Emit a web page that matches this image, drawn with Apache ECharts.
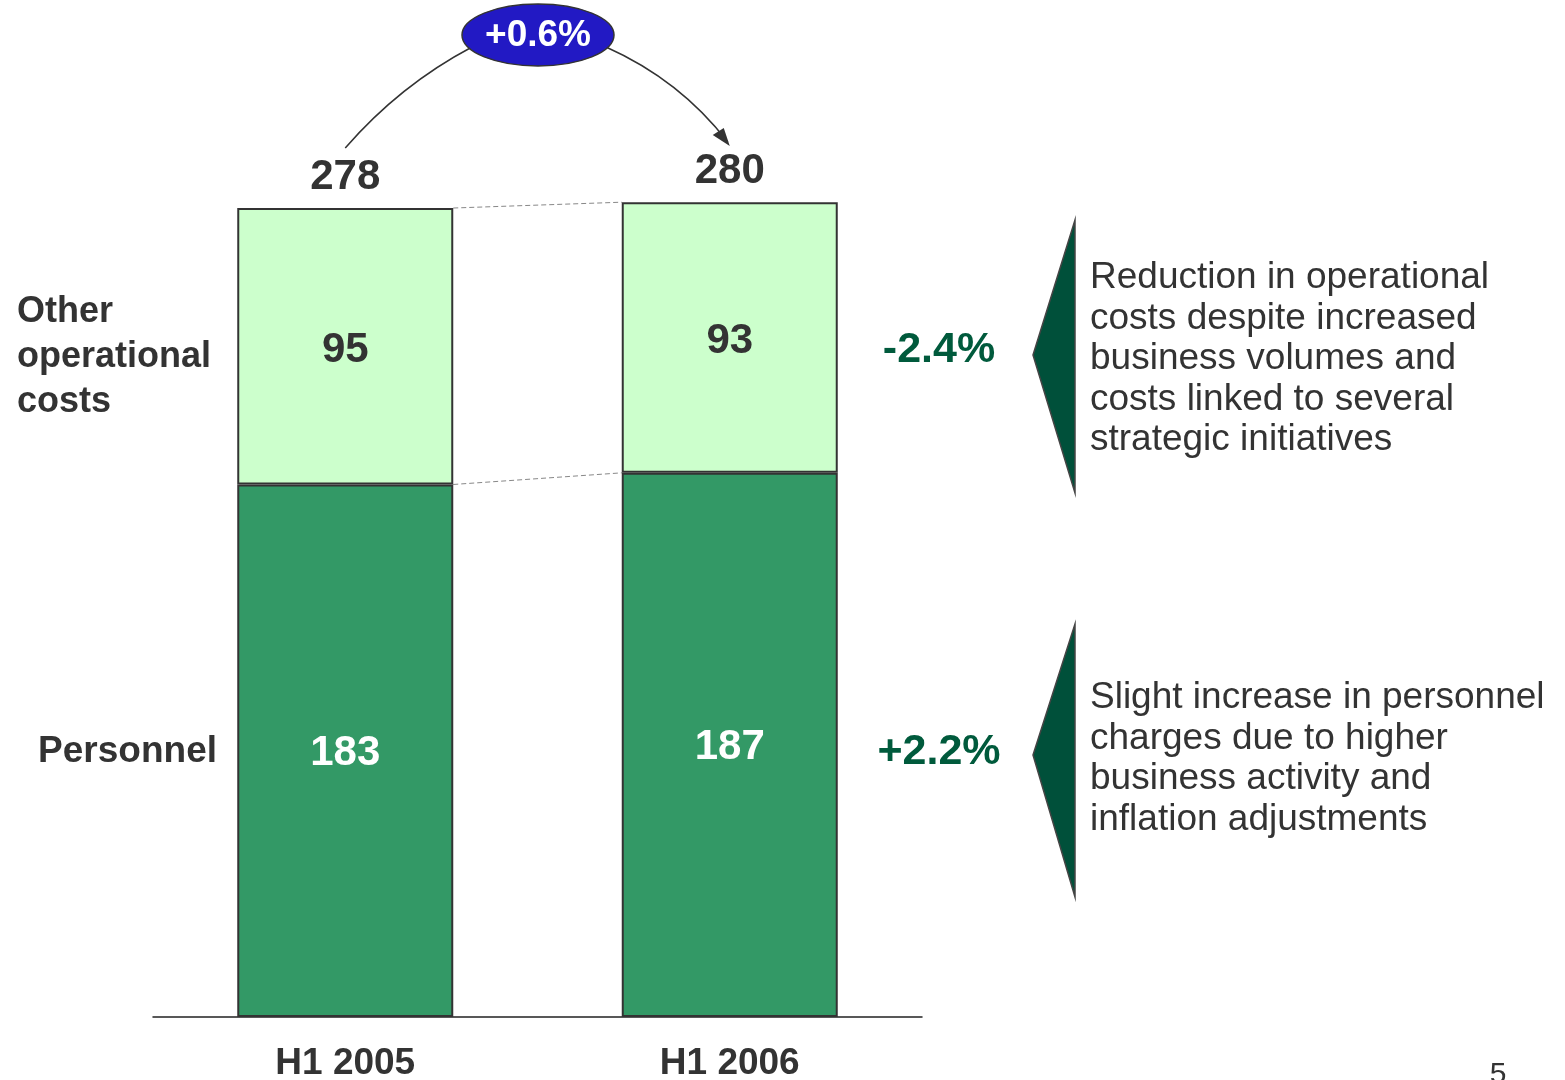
<!DOCTYPE html>
<html>
<head>
<meta charset="utf-8">
<script src="https://cdn.jsdelivr.net/npm/echarts@6/dist/echarts.min.js"></script>
<style>
  html, body { margin: 0; padding: 0; background: #fff; }
  #main { width: 1565px; height: 1080px; }
</style>
</head>
<body>
<div id="main"></div>
<script>
// data
var categories = ['H1 2005', 'H1 2006'];
var personnel = [183, 187];
var otherCosts = [95, 93];
var totals = [278, 280];
var growthTotal = '+0.6%';
var growthRows = ['-2.4%', '+2.2%'];
var notesOther = ['Reduction in operational', 'costs despite increased', 'business volumes and', 'costs linked to several', 'strategic initiatives'];
var notesPersonnel = ['Slight increase in personnel', 'charges due to higher', 'business activity and', 'inflation adjustments'];

var FONT = '"Liberation Sans", Arial, sans-serif';
var chart = echarts.init(document.getElementById('main'));

var option = {
  backgroundColor: '#fff',
  animation: false,
  grid: { left: 153, right: 643, top: 144, bottom: 63, containLabel: false, outerBoundsMode: 'none' },
  xAxis: {
    type: 'category',
    data: categories,
    axisLine: { lineStyle: { color: '#222', width: 1.5 } },
    axisTick: { show: false },
    axisLabel: { color: '#333', fontFamily: FONT, fontWeight: 'bold', fontSize: 37, margin: 28 }
  },
  yAxis: { type: 'value', min: 0, max: 300, show: false, splitLine: { show: false } },
  series: [
    {
      name: 'Personnel', type: 'bar', stack: 'c', barWidth: 216, data: personnel,
      itemStyle: { color: '#339966', borderColor: '#333', borderWidth: 2 },
      label: { show: true, position: 'inside', color: '#fff', fontFamily: FONT, fontWeight: 'bold', fontSize: 42, offset: [0, 3] }
    },
    {
      name: 'Other operational costs', type: 'bar', stack: 'c', barWidth: 216, data: otherCosts,
      itemStyle: { color: '#ccffcc', borderColor: '#333', borderWidth: 2 },
      label: { show: true, position: 'inside', color: '#333', fontFamily: FONT, fontWeight: 'bold', fontSize: 42, offset: [0, 4] }
    }
  ]
};
chart.setOption(option);

// overlay elements placed from the axes
var half = 108;
var g = [];
var p0 = chart.convertToPixel({ seriesIndex: 0 }, [0, personnel[0]]);
var p1 = chart.convertToPixel({ seriesIndex: 0 }, [1, personnel[1]]);
var t0 = chart.convertToPixel({ seriesIndex: 0 }, [0, totals[0]]);
var t1 = chart.convertToPixel({ seriesIndex: 0 }, [1, totals[1]]);

// dashed connectors
[[p0, p1], [t0, t1]].forEach(function (pair) {
  g.push({ type: 'line', z: 1,
    shape: { x1: pair[0][0] + half, y1: pair[0][1], x2: pair[1][0] - half, y2: pair[1][1] },
    style: { stroke: '#888', lineWidth: 1, lineDash: [5, 3] } });
});

// totals above bars
[t0, t1].forEach(function (p, i) {
  g.push({ type: 'text', x: p[0], y: p[1] - 31,
    style: { text: String(totals[i]), fill: '#333', font: 'bold 42px ' + FONT, textAlign: 'center', textVerticalAlign: 'middle' } });
});

// growth arc + bubble
g.push({ type: 'bezierCurve', shape: { x1: t0[0], y1: 148, x2: 472, y2: 47, cpx1: 400, cpy1: 85 },
  style: { stroke: '#333', lineWidth: 1.5, fill: null } });
g.push({ type: 'bezierCurve', shape: { x1: 606, y1: 47, x2: t1[0] - 2, y2: 142, cpx1: 680, cpy1: 80 },
  style: { stroke: '#333', lineWidth: 1.5, fill: null } });
g.push({ type: 'polygon', shape: { points: [[t1[0], 146], [t1[0] - 17, 135], [t1[0] - 6, 128]] },
  style: { fill: '#333' } });
g.push({ type: 'ellipse', shape: { cx: 538, cy: 35, rx: 76, ry: 31 },
  style: { fill: '#2219c4', stroke: '#333', lineWidth: 1.5 } });
g.push({ type: 'text', x: 538, y: 36,
  style: { text: growthTotal, fill: '#fff', font: 'bold 37px ' + FONT, textAlign: 'center', textVerticalAlign: 'middle' } });

// left labels
g.push({ type: 'text', x: 17, y: 357,
  style: { text: 'Other\noperational\ncosts', fill: '#333', font: 'bold 36px ' + FONT, lineHeight: 45, textAlign: 'left', textVerticalAlign: 'middle' } });
g.push({ type: 'text', x: 217, y: 752,
  style: { text: 'Personnel', fill: '#333', font: 'bold 37px ' + FONT, textAlign: 'right', textVerticalAlign: 'middle' } });

// row growth
[350, 752].forEach(function (y, i) {
  g.push({ type: 'text', x: 939, y: y,
    style: { text: growthRows[i], fill: '#005a3c', font: 'bold 43px ' + FONT, textAlign: 'center', textVerticalAlign: 'middle' } });
});

// brackets
[[220, 355, 493], [624, 755, 897]].forEach(function (b) {
  g.push({ type: 'polygon', shape: { points: [[1075, b[0]], [1033, b[1]], [1075, b[2]]] },
    style: { fill: '#00503a', stroke: '#444', lineWidth: 1.5 } });
});

// notes
g.push({ type: 'text', x: 1090, y: 258,
  style: { text: notesOther.join('\n'), fill: '#333', font: '37px ' + FONT, lineHeight: 40.5, textAlign: 'left', textVerticalAlign: 'top' } });
g.push({ type: 'text', x: 1090, y: 678,
  style: { text: notesPersonnel.join('\n'), fill: '#333', font: '37px ' + FONT, lineHeight: 40.5, textAlign: 'left', textVerticalAlign: 'top' } });

// page number
g.push({ type: 'text', x: 1498, y: 1060,
  style: { text: '5', fill: '#333', font: '30px ' + FONT, textAlign: 'center', textVerticalAlign: 'top' } });

chart.setOption({ graphic: g });
</script>
</body>
</html>
